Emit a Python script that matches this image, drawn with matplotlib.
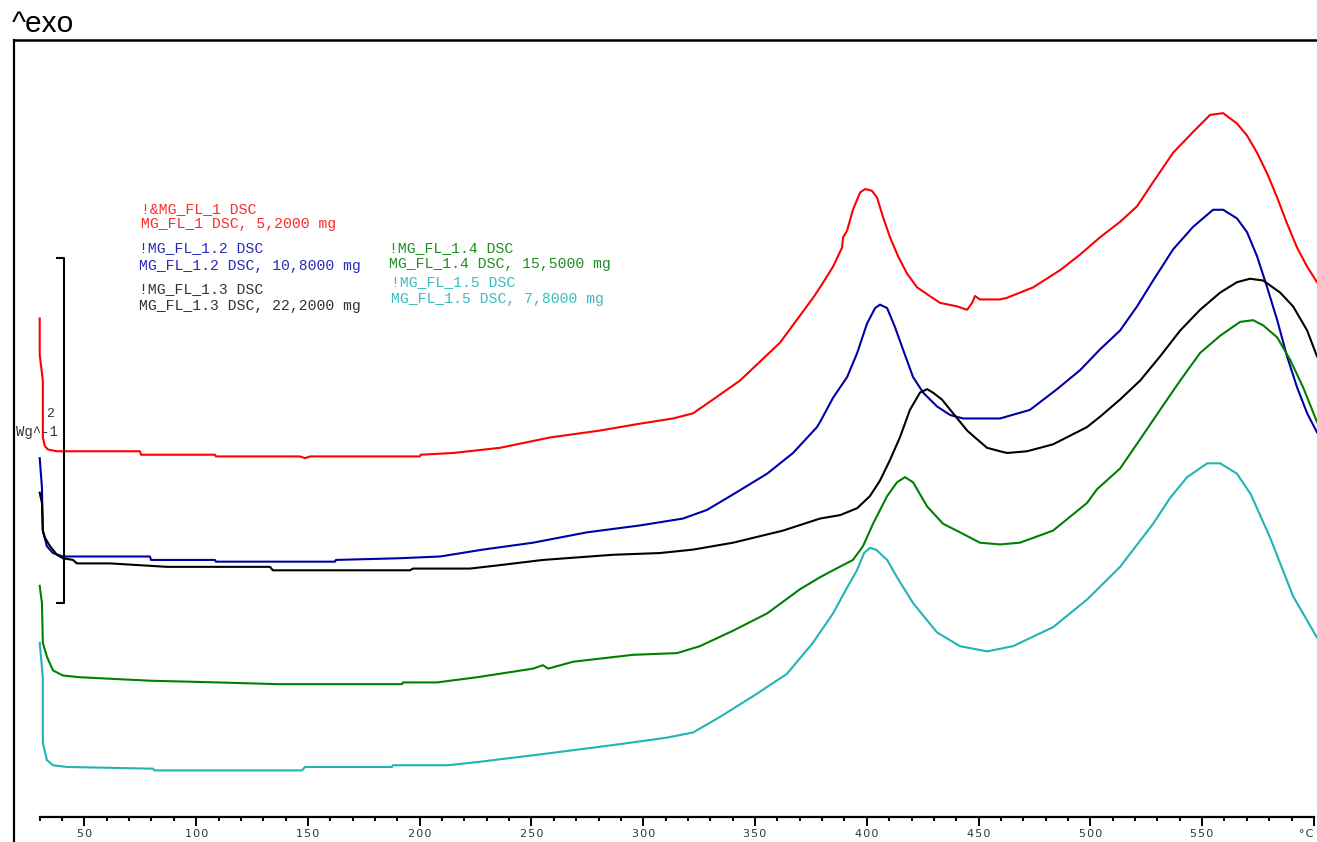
import matplotlib.pyplot as plt

# DSC curves, temperature in °C, heat flow in W/g (curves shifted as on the plot)
red_T = [30, 30, 31.4, 31.4, 32.3, 33.7, 37.7, 74.8, 75.3, 108.4, 108.8, 146.4, 148.7, 150.9,
         200, 200.5, 214.9, 235.9, 258.3, 280.6, 298.5, 313.3, 322.3, 331.2, 343.3, 361.2,
         376.0, 379.1, 384.9, 388.9, 389.4, 391.2, 393.8, 397.0, 399.2, 402.3, 404.6, 407.2,
         410.4, 414.0, 418.0, 422.5, 427.0, 432.8, 440.4, 444.9, 447.1, 448.4, 450.6, 459.6,
         462.8, 474.4, 486.5, 495.4, 504.3, 513.3, 520.9, 528.1, 537.0, 545.9, 553.6, 559.4,
         565.6, 570.1, 574.6, 579.1, 583.6, 588.0, 592.5, 597.0, 601.4]
red_hf = [2.89, 2.68, 2.53, 2.20, 2.15, 2.13, 2.12, 2.12, 2.10, 2.10, 2.09, 2.09, 2.08, 2.09,
          2.09, 2.10, 2.11, 2.14, 2.20, 2.24, 2.28, 2.31, 2.34, 2.42, 2.53, 2.75,
          3.01, 3.07, 3.19, 3.30, 3.36, 3.40, 3.52, 3.62, 3.64, 3.63, 3.59, 3.48,
          3.36, 3.25, 3.15, 3.07, 3.03, 2.98, 2.96, 2.94, 2.98, 3.02, 3.00, 3.00,
          3.01, 3.07, 3.17, 3.26, 3.36, 3.45, 3.54, 3.68, 3.85, 3.97, 4.07, 4.08,
          4.02, 3.95, 3.85, 3.73, 3.59, 3.44, 3.30, 3.19, 3.10]

blue_T = [30, 31.0, 31.4, 33.2, 35.9, 40.4, 44.9, 79.3, 79.8, 108.4, 108.8, 162.1, 162.5, 191.2,
          209.1, 228.3, 250.7, 274.8, 298.5, 317.8, 328.5, 340.2, 355.4, 367.0, 377.7, 379.1,
          384.9, 391.2, 395.7, 400.1, 403.7, 405.9, 409.1, 412.6, 416.2, 420.7, 425.2, 431.4,
          437.3, 443.1, 459.6, 473.0, 485.1, 495.4, 504.3, 513.3, 520.9, 528.1, 537.0, 545.9,
          554.9, 559.4, 565.6, 570.1, 574.6, 579.1, 583.6, 588.0, 592.5, 597.0, 601.4]
blue_hf = [2.08, 1.91, 1.66, 1.57, 1.53, 1.51, 1.51, 1.51, 1.49, 1.49, 1.48, 1.48, 1.49, 1.50,
           1.51, 1.55, 1.59, 1.65, 1.69, 1.73, 1.78, 1.87, 1.99, 2.11, 2.26, 2.29,
           2.43, 2.55, 2.69, 2.86, 2.95, 2.97, 2.95, 2.84, 2.71, 2.55, 2.46, 2.38,
           2.33, 2.31, 2.31, 2.36, 2.48, 2.59, 2.71, 2.82, 2.96, 3.11, 3.29, 3.42,
           3.52, 3.52, 3.47, 3.39, 3.25, 3.07, 2.88, 2.67, 2.49, 2.34, 2.23]

black_T = [30, 31.0, 31.4, 32.3, 34.6, 37.7, 40.4, 44.9, 46.6, 61.4, 86.9, 133.0, 134.3, 195.6,
           197.0, 222.5, 235.9, 255.1, 286.5, 307.5, 322.3, 340.2, 362.5, 379.1, 388.1, 395.7,
           401.4, 405.9, 410.4, 414.8, 419.3, 423.8, 427.0, 429.6, 433.6, 438.6, 444.9, 449.3,
           453.8, 459.6, 462.8, 471.7, 483.3, 498.5, 504.3, 513.3, 522.3, 531.2, 540.2, 549.1,
           558.1, 565.6, 571.4, 577.3, 584.9, 590.7, 597.0, 601.4]
black_hf = [1.88, 1.82, 1.66, 1.62, 1.57, 1.52, 1.50, 1.49, 1.47, 1.47, 1.45, 1.45, 1.43, 1.43,
            1.44, 1.44, 1.46, 1.49, 1.52, 1.53, 1.55, 1.59, 1.66, 1.73, 1.75, 1.79,
            1.86, 1.95, 2.07, 2.20, 2.36, 2.46, 2.48, 2.46, 2.42, 2.34, 2.24, 2.19,
            2.14, 2.12, 2.11, 2.12, 2.16, 2.26, 2.32, 2.42, 2.53, 2.67, 2.82, 2.94,
            3.04, 3.10, 3.12, 3.11, 3.04, 2.96, 2.82, 2.67]

green_T = [30, 31.0, 31.4, 33.2, 35.9, 40.4, 48.0, 79.3, 109.7, 136.6, 192.1, 192.5, 207.7, 225.6,
           250.7, 255.1, 257.4, 268.6, 295.4, 315.1, 325.3, 340.2, 355.4, 370.1, 379.1, 384.9,
           393.8, 398.3, 402.8, 409.1, 413.5, 417.1, 420.7, 427.0, 434.1, 441.7, 450.6, 459.6,
           468.5, 483.3, 498.5, 503.0, 513.3, 522.3, 531.2, 540.2, 549.1, 558.1, 567.0, 572.8,
           577.3, 583.6, 589.4, 595.2, 601.4]
green_hf = [1.34, 1.24, 1.01, 0.93, 0.85, 0.82, 0.81, 0.79, 0.78, 0.77, 0.77, 0.78, 0.78, 0.81,
            0.86, 0.88, 0.86, 0.90, 0.94, 0.95, 0.99, 1.08, 1.18, 1.32, 1.39, 1.43,
            1.49, 1.57, 1.70, 1.86, 1.94, 1.97, 1.94, 1.80, 1.70, 1.65, 1.59, 1.58,
            1.59, 1.66, 1.82, 1.90, 2.02, 2.19, 2.36, 2.53, 2.69, 2.79, 2.87, 2.88,
            2.85, 2.78, 2.65, 2.49, 2.29]

cyan_T = [30, 31.4, 31.4, 33.2, 35.9, 42.2, 80.6, 81.5, 147.3, 148.7, 187.6, 188.0, 212.6, 226.9,
          258.3, 288.3, 310.6, 322.3, 334.3, 349.1, 364.3, 375.9, 384.9, 391.2, 395.6, 398.8,
          401.4, 404.1, 409.1, 413.5, 420.7, 431.4, 441.7, 453.8, 465.4, 483.3, 498.5, 513.3,
          528.1, 535.7, 543.3, 552.3, 558.1, 565.6, 571.8, 580.4, 590.7, 601.4]
cyan_hf = [1.01, 0.81, 0.43, 0.33, 0.30, 0.29, 0.28, 0.27, 0.27, 0.29, 0.29, 0.30, 0.30, 0.32,
           0.37, 0.42, 0.46, 0.49, 0.58, 0.70, 0.83, 1.01, 1.18, 1.33, 1.43, 1.53,
           1.56, 1.55, 1.49, 1.39, 1.24, 1.07, 0.99, 0.96, 0.99, 1.10, 1.26, 1.45,
           1.70, 1.85, 1.97, 2.05, 2.05, 1.99, 1.87, 1.62, 1.28, 1.04]

curves = [
    (red_T, red_hf, "#ff0000"),
    (blue_T, blue_hf, "#0000a8"),
    (black_T, black_hf, "#000000"),
    (green_T, green_hf, "#008000"),
    (cyan_T, cyan_hf, "#22b4b4"),
]

legend_lines = [
    ("!&MG_FL_1 DSC", "MG_FL_1 DSC, 5,2000 mg", "#ff2a2a", 141, 209, 224),
    ("!MG_FL_1.2 DSC", "MG_FL_1.2 DSC, 10,8000 mg", "#2a2ab8", 139, 248, 266),
    ("!MG_FL_1.3 DSC", "MG_FL_1.3 DSC, 22,2000 mg", "#333333", 139, 289, 306),
    ("!MG_FL_1.4 DSC", "MG_FL_1.4 DSC, 15,5000 mg", "#1f8f1f", 389, 248, 264),
    ("!MG_FL_1.5 DSC", "MG_FL_1.5 DSC, 7,8000 mg", "#3bbcbc", 391, 282, 299),
]

tick_vals = list(range(50, 601, 50))
tick_labels = [str(t) for t in range(50, 551, 50)] + ["°C"]

W, H = 1317, 842
fig = plt.figure(figsize=(W / 100, H / 100), dpi=100)
ax = fig.add_axes([14 / W, 0, 1 - 14 / W, (H - 40) / H])

for T, hf, c in curves:
    ax.plot(T, hf, color=c, lw=1.5)

ax.set_xlim(18.5, 601.4)
ax.set_ylim(-0.145, 4.504)

# frame: left + top, x axis drawn as a floating line
ax.spines["right"].set_visible(False)
ax.spines["left"].set_linewidth(1.6)
ax.spines["top"].set_linewidth(1.8)
ax.spines["bottom"].set_position(("data", 0))
ax.spines["bottom"].set_bounds(30, 600)
ax.spines["bottom"].set_linewidth(1.6)
ax.set_yticks([])
ax.set_xticks(tick_vals)
ax.set_xticklabels(["\u200a".join(s) for s in tick_labels], fontsize=8, color="#333333")
ax.get_xticklabels()[-1].set_ha("right")
ax.set_xticks(range(30, 601, 10), minor=True)
ax.tick_params(axis="x", which="major", direction="out", length=6.5, width=1.4, pad=2.5)
ax.tick_params(axis="x", which="minor", direction="out", length=3.2, width=1.4)

# scale bar 2 W/g
ax.plot([37.7, 40.8, 40.8, 37.7], [3.24, 3.24, 1.24, 1.24], color="black", lw=1.5, clip_on=False)
fig.text(50 / W, 1 - 414 / H, "2", fontsize=9.5, family="Liberation Mono", color="#333333",
         ha="center", va="center")
fig.text(58 / W, 1 - 432 / H, "Wg^-1", fontsize=10, family="Liberation Mono", color="#333333",
         ha="right", va="center")

fig.text(12 / W, 1 - 32 / H, "^exo", fontsize=21.5, family="Liberation Sans", ha="left",
         va="baseline")

for l1, l2, c, x, y1, y2 in legend_lines:
    fig.text(x / W, 1 - y1 / H, l1, fontsize=10.6, family="Liberation Mono", color=c,
             ha="left", va="center")
    fig.text(x / W, 1 - y2 / H, l2, fontsize=10.6, family="Liberation Mono", color=c,
             ha="left", va="center")

fig.savefig("out.png", dpi=100)
